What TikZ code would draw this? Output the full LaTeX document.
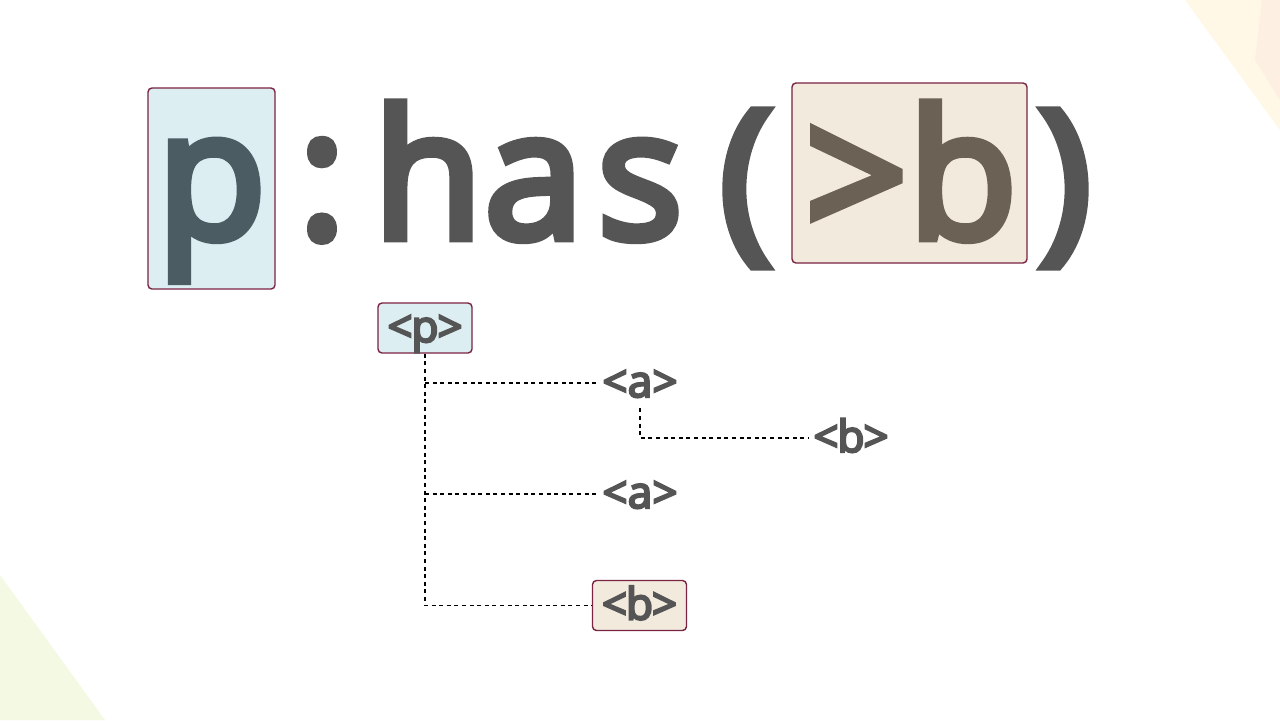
\documentclass[tikz,border=0pt]{standalone}
\usepackage{fontspec}
\setsansfont{Open Sans}
\newfontfamily\semibf{Open Sans}[FakeBold=5]
\usepackage{tikz}
\usetikzlibrary{positioning,calc}
\definecolor{ink}{HTML}{555555}
\definecolor{pink}{HTML}{4B5C62}
\definecolor{bink}{HTML}{6B6154}
\definecolor{rim}{HTML}{7A2342}
\definecolor{pfill}{HTML}{DCEEF2}
\definecolor{bfill}{HTML}{F2EADC}
\newcommand\mc[2][12.5pt]{\makebox[#1]{#2}}
\begin{document}
\begin{tikzpicture}[x=0.5pt,y=-0.5pt,
    big/.style={font=\semibf\fontsize{89}{100}\selectfont,text=ink,inner sep=0pt,anchor=base},
    small/.style={font=\semibf\fontsize{22}{24}\selectfont,text=ink,inner sep=2pt,text height=17.5pt,text depth=3.5pt},
    tagbox/.style={draw=rim,line width=0.7pt,rounded corners=2pt,minimum width=47pt,minimum height=25pt},
    link/.style={black,line width=0.7pt,dash pattern=on 2pt off 1.8pt}]
        \useasboundingbox[fill=white] (0,0) rectangle (1280,720);
        \fill[fill={rgb,255:red,255;green,248;blue,230}] (1185,0) -- (1280,0) -- (1280,130) -- cycle;
        \fill[fill={rgb,255:red,253;green,240;blue,226}] (1262,0) -- (1280,0) -- (1280,100) -- (1255,60) -- cycle;
        \fill[fill={rgb,255:red,243;green,249;blue,227}] (0,575) -- (105,720) -- (0,720) -- cycle;
        \node[big,draw=rim,line width=0.7pt,rounded corners=2pt,fill=pfill,text=pink,
            minimum width=63.5pt,text height=75pt,text depth=25.5pt] (sel) at (211.5,238) {\mc[53pt]{p}};
        \node[big] (pseudo) at (534,238) {\mc[53pt]{:}\mc[53pt]{h}\mc[53pt]{a}\mc[53pt]{s}\mc[53pt]{(}};
        \node[big,draw=rim,line width=0.7pt,rounded corners=2pt,fill=bfill,text=bink,
            minimum width=117.5pt,text height=77.5pt,text depth=12.5pt] (arg) at (909.5,238) {\mc[53pt]{>}\mc[53pt]{b}};
        \node[big] (close) at (1065,238) {\mc[53pt]{)}};
        \node[small,tagbox,fill=pfill] (p) at (425,328) {\mc{<}\mc{p}\mc{>}};
        \node[small] (a1) at (640,383) {\mc{<}\mc{a}\mc{>}};
        \node[small] (b1) at (851,438) {\mc{<}\mc{b}\mc{>}};
        \node[small] (a2) at (640,494) {\mc{<}\mc{a}\mc{>}};
        \node[small,tagbox,fill=bfill] (b2) at (639.5,605.5) {\mc{<}\mc{b}\mc{>}};
        \draw[link] (p.south) -- (p.south |- b2.west) -- (b2.west);
        \draw[link] (p.south |- a1.west) -- (a1.west);
        \draw[link] (p.south |- a2.west) -- (a2.west);
        \draw[link] (a1.south) -- (a1.south |- b1.west) -- (b1.west);
\end{tikzpicture}
\end{document}
